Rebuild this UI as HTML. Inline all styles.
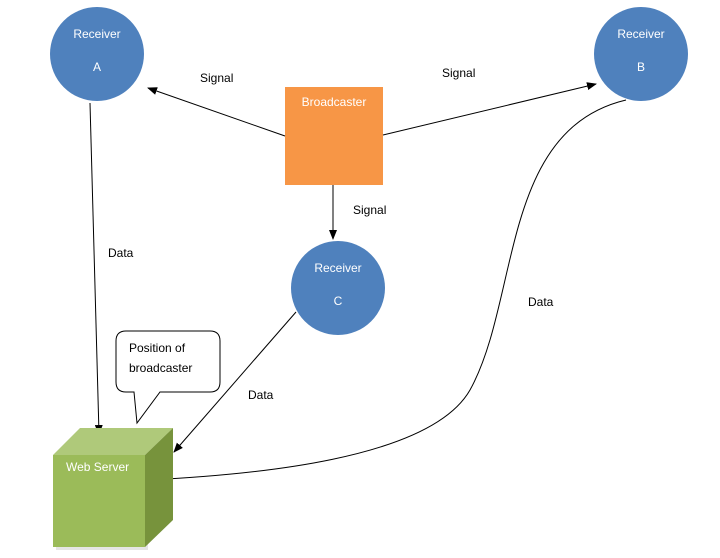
<!DOCTYPE html>
<html><head><style>body{margin:0;background:#fff}</style></head><body>
<svg width="720" height="553" xmlns="http://www.w3.org/2000/svg" font-family="Liberation Sans, sans-serif" font-size="12">
<defs><marker id="a" markerWidth="10" markerHeight="8" refX="9" refY="4" orient="auto" markerUnits="userSpaceOnUse"><path d="M0,0L10,4L0,8z" fill="#000"/></marker></defs>
<circle cx="97" cy="54" r="47" fill="#4f81bd"/>
<text x="97" y="38" fill="#fff" text-anchor="middle">Receiver</text>
<text x="97" y="71" fill="#fff" text-anchor="middle">A</text>
<circle cx="641" cy="54" r="47" fill="#4f81bd"/>
<text x="641" y="38" fill="#fff" text-anchor="middle">Receiver</text>
<text x="641" y="71" fill="#fff" text-anchor="middle">B</text>
<circle cx="338" cy="288" r="47" fill="#4f81bd"/>
<text x="338" y="272" fill="#fff" text-anchor="middle">Receiver</text>
<text x="338" y="305" fill="#fff" text-anchor="middle">C</text>
<rect x="285" y="87" width="98" height="98" fill="#f79646"/>
<text x="334" y="106" fill="#fff" text-anchor="middle">Broadcaster</text>
<g stroke="#000" stroke-width="1" fill="none">
<line x1="285" y1="136" x2="148" y2="88" marker-end="url(#a)"/>
<line x1="383" y1="135" x2="596" y2="84" marker-end="url(#a)"/>
<line x1="333" y1="185" x2="333" y2="239" marker-end="url(#a)"/>
<line x1="90" y1="103" x2="99" y2="434" marker-end="url(#a)"/>
<line x1="296" y1="312" x2="174" y2="452" marker-end="url(#a)"/>
<path d="M626,100 C500,130 520,300 470,390 C430,460 250,475 148,480" marker-end="url(#a)"/>
</g>
<text x="200" y="82">Signal</text>
<text x="442" y="77">Signal</text>
<text x="353" y="214">Signal</text>
<text x="108" y="257">Data</text>
<text x="248" y="399">Data</text>
<text x="528" y="306">Data</text>
<rect x="56" y="458" width="92" height="92" fill="#ccc" opacity="0.5"/>
<polygon points="53,455 80,428 173,428 145,455" fill="#afc97a"/>
<polygon points="145,455 173,428 173,520 145,547" fill="#77933c"/>
<rect x="53" y="455" width="92" height="92" fill="#9bbb59"/>
<text x="66" y="471" fill="#fff">Web Server</text>
<path d="M126,331 H210 Q220,331 220,341 V382 Q220,392 210,392 H160 L137,423 L134,392 H126 Q116,392 116,382 V341 Q116,331 126,331 Z" fill="#fff" stroke="#000"/>
<text x="129" y="352">Position of</text>
<text x="129" y="372">broadcaster</text>
</svg>
</body></html>
